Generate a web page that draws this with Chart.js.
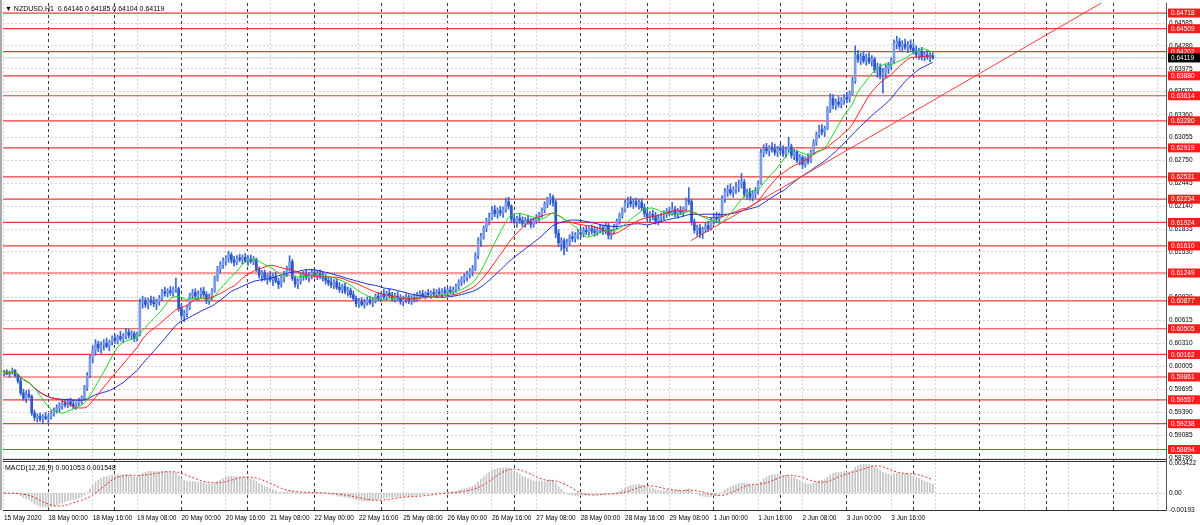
<!DOCTYPE html>
<html><head><meta charset="utf-8">
<script src="https://cdn.jsdelivr.net/npm/chart.js@4.4.0/dist/chart.umd.min.js"></script>
<style>html,body{margin:0;padding:0;background:#fff;}#wrap{position:relative;width:1200px;height:525px;}canvas{display:block;}</style>
</head><body><div id="wrap"><canvas id="c" width="1200" height="525"></canvas></div>
<script>
const symbolTitle = "\u25BC NZDUSD,H1  0.64146 0.64185 0.64104 0.64119";
const macdTitle = "MACD(12,26,9) 0.001053 0.001548";
const timeLabels = ["15 May 2020","18 May 00:00","18 May 16:00","19 May 08:00","20 May 00:00","20 May 16:00","21 May 08:00","22 May 00:00","22 May 16:00","25 May 08:00","26 May 00:00","26 May 16:00","27 May 08:00","28 May 00:00","28 May 16:00","29 May 08:00","1 Jun 00:00","1 Jun 16:00","2 Jun 08:00","3 Jun 00:00","3 Jun 16:00"];
const barsPerLabel = 16, firstDayBar = 16, barsPerDay = 24;
const priceTicks = [0.64585,0.64280,0.63975,0.63670,0.63360,0.63055,0.62750,0.62445,0.62140,0.61835,0.61530,0.61225,0.60920,0.60615,0.60310,0.60005,0.59695,0.59390,0.59085,0.58780];
const levels = [0.64718,0.64509,0.64202,0.63880,0.63614,0.63280,0.62919,0.62531,0.62234,0.61924,0.61610,0.61249,0.60877,0.60505,0.60162,0.59861,0.59557,0.59238,0.58894];
const lastPrice = 0.64119;
const macdTickValues = [0.003422, 0, -0.00193];
const macdTickLabels = ["0.003422","0.00","-0.00193"];
const trendLine = [{x:247.7,y:0.6168},{x:395.7,y:0.6485}];
const opens = [
.5991,.5993,.5990,.5992,.5995,.5988,.5981,.5965,.5958,.5963,.5960,.5938,.5932,.5934,.5930,.5933,
.5931,.5933,.5938,.5942,.5945,.5948,.5951,.5949,.5953,.5950,.5947,.5951,.5955,.5957,.5972,.5988,
.6012,.6022,.6030,.6025,.6029,.6031,.6027,.6033,.6038,.6035,.6040,.6037,.6041,.6046,.6042,.6044,
.6038,.6043,.6085,.6088,.6083,.6089,.6086,.6084,.6087,.6091,.6100,.6098,.6101,.6099,.6103,.6104,
.6078,.6068,.6071,.6079,.6095,.6099,.6094,.6097,.6101,.6096,.6088,.6093,.6101,.6118,.6130,.6136,
.6141,.6144,.6149,.6142,.6139,.6145,.6143,.6146,.6141,.6144,.6140,.6143,.6130,.6122,.6125,.6118,
.6121,.6116,.6120,.6114,.6110,.6118,.6124,.6131,.6140,.6118,.6110,.6114,.6121,.6123,.6119,.6122,
.6125,.6121,.6124,.6120,.6118,.6115,.6112,.6109,.6113,.6106,.6103,.6107,.6100,.6102,.6096,.6091,
.6084,.6087,.6083,.6086,.6089,.6085,.6088,.6094,.6091,.6097,.6093,.6098,.6095,.6090,.6094,.6091,
.6087,.6090,.6093,.6088,.6092,.6090,.6095,.6097,.6094,.6098,.6096,.6099,.6097,.6100,.6098,.6101,
.6099,.6102,.6100,.6103,.6107,.6113,.6116,.6120,.6123,.6127,.6130,.6148,.6168,.6174,.6185,.6194,
.6199,.6209,.6204,.6208,.6205,.6210,.6220,.6214,.6197,.6194,.6198,.6195,.6191,.6196,.6193,.6190,
.6195,.6199,.6203,.6209,.6217,.6223,.6226,.6219,.6178,.6165,.6168,.6158,.6166,.6173,.6171,.6176,
.6179,.6177,.6182,.6180,.6184,.6181,.6179,.6183,.6185,.6180,.6188,.6175,.6180,.6187,.6194,.6202,
.6209,.6218,.6221,.6217,.6220,.6216,.6219,.6212,.6204,.6199,.6203,.6200,.6194,.6198,.6201,.6204,
.6207,.6205,.6210,.6203,.6208,.6206,.6211,.6222,.6220,.6193,.6182,.6185,.6177,.6183,.6188,.6184,
.6195,.6199,.6197,.6202,.6224,.6233,.6236,.6232,.6237,.6240,.6243,.6246,.6230,.6233,.6226,.6231,
.6234,.6245,.6285,.6291,.6288,.6292,.6290,.6286,.6291,.6289,.6284,.6290,.6293,.6282,.6286,.6275,
.6279,.6270,.6277,.6274,.6286,.6299,.6309,.6316,.6313,.6318,.6343,.6358,.6349,.6353,.6350,.6356,
.6359,.6357,.6364,.6381,.6416,.6410,.6414,.6408,.6412,.6407,.6410,.6396,.6400,.6389,.6392,.6398,
.6402,.6408,.6431,.6434,.6427,.6430,.6426,.6429,.6425,.6420,.6416,.6421,.6413,.6416,.6413,.64146];
const highs = [
.5995,.5996,.5994,.5998,.5996,.5990,.5985,.5970,.5968,.5969,.5962,.5942,.5937,.5938,.5936,.5939,
.5936,.5941,.5945,.5949,.5952,.5954,.5956,.5957,.5958,.5955,.5953,.5958,.5961,.5975,.5992,.6015,
.6028,.6036,.6034,.6033,.6036,.6038,.6035,.6041,.6043,.6042,.6047,.6044,.6051,.6050,.6048,.6047,
.6046,.6090,.6094,.6092,.6091,.6094,.6093,.6090,.6095,.6103,.6106,.6104,.6107,.6106,.6118,.6106,
.6083,.6075,.6082,.6098,.6103,.6104,.6101,.6105,.6106,.6100,.6097,.6104,.6121,.6134,.6140,.6145,
.6148,.6154,.6152,.6147,.6148,.6150,.6149,.6151,.6148,.6149,.6147,.6145,.6133,.6128,.6129,.6124,
.6127,.6124,.6126,.6118,.6121,.6127,.6134,.6148,.6143,.6121,.6117,.6125,.6127,.6129,.6126,.6130,
.6131,.6128,.6129,.6126,.6123,.6120,.6118,.6116,.6117,.6112,.6110,.6111,.6106,.6105,.6101,.6094,
.6091,.6092,.6090,.6093,.6094,.6092,.6097,.6099,.6100,.6103,.6101,.6104,.6099,.6098,.6100,.6096,
.6094,.6097,.6096,.6095,.6097,.6099,.6101,.6102,.6100,.6103,.6101,.6104,.6103,.6105,.6104,.6106,
.6105,.6107,.6106,.6110,.6116,.6120,.6124,.6127,.6131,.6135,.6152,.6172,.6178,.6188,.6198,.6205,
.6214,.6215,.6212,.6214,.6213,.6225,.6226,.6216,.6203,.6201,.6204,.6200,.6199,.6202,.6198,.6198,
.6203,.6206,.6212,.6220,.6226,.6231,.6229,.6222,.6183,.6172,.6171,.6170,.6176,.6180,.6179,.6183,
.6185,.6186,.6188,.6187,.6189,.6187,.6186,.6190,.6189,.6192,.6191,.6183,.6190,.6197,.6205,.6212,
.6222,.6226,.6227,.6224,.6225,.6223,.6224,.6217,.6210,.6207,.6209,.6206,.6203,.6205,.6208,.6211,
.6213,.6219,.6214,.6211,.6214,.6213,.6225,.6239,.6223,.6197,.6189,.6190,.6186,.6192,.6194,.6198,
.6204,.6206,.6205,.6228,.6238,.6242,.6244,.6240,.6246,.6249,.6258,.6250,.6237,.6238,.6235,.6239,
.6248,.6290,.6296,.6298,.6295,.6299,.6297,.6294,.6297,.6295,.6293,.6306,.6297,.6290,.6289,.6283,
.6282,.6280,.6284,.6289,.6303,.6313,.6322,.6323,.6321,.6347,.6364,.6363,.6357,.6360,.6359,.6363,
.6366,.6368,.6386,.6428,.6422,.6418,.6420,.6417,.6419,.6415,.6413,.6405,.6404,.6398,.6403,.6406,
.6412,.6436,.6441,.6438,.6435,.6437,.6434,.6436,.6432,.6428,.6425,.6426,.6420,.6422,.6419,.64185];
const lows = [
.5988,.5989,.5986,.5990,.5986,.5978,.5962,.5955,.5952,.5958,.5935,.5928,.5926,.5927,.5924,.5929,
.5924,.5930,.5934,.5938,.5940,.5943,.5946,.5945,.5947,.5944,.5943,.5948,.5950,.5955,.5968,.5985,
.6005,.6015,.6020,.6018,.6022,.6025,.6021,.6029,.6031,.6030,.6034,.6032,.6037,.6038,.6036,.6033,
.6034,.6041,.6078,.6079,.6077,.6082,.6080,.6076,.6082,.6088,.6094,.6093,.6095,.6094,.6099,.6074,
.6063,.6060,.6066,.6076,.6090,.6091,.6088,.6092,.6093,.6084,.6083,.6089,.6099,.6114,.6125,.6131,
.6135,.6139,.6138,.6134,.6136,.6140,.6137,.6139,.6135,.6138,.6136,.6127,.6118,.6114,.6115,.6110,
.6113,.6108,.6112,.6104,.6106,.6113,.6120,.6127,.6115,.6106,.6104,.6110,.6115,.6116,.6113,.6117,
.6119,.6116,.6117,.6114,.6110,.6108,.6105,.6104,.6103,.6099,.6098,.6097,.6094,.6092,.6088,.6080,
.6079,.6081,.6078,.6082,.6083,.6080,.6085,.6088,.6087,.6090,.6089,.6092,.6087,.6086,.6088,.6083,
.6081,.6085,.6084,.6083,.6086,.6087,.6090,.6092,.6090,.6093,.6091,.6094,.6092,.6095,.6093,.6096,
.6094,.6097,.6096,.6099,.6103,.6108,.6111,.6114,.6118,.6121,.6128,.6144,.6160,.6170,.6180,.6189,
.6196,.6200,.6198,.6201,.6199,.6206,.6210,.6192,.6190,.6186,.6191,.6187,.6186,.6190,.6185,.6186,
.6191,.6194,.6199,.6205,.6212,.6216,.6214,.6172,.6160,.6155,.6149,.6154,.6162,.6167,.6166,.6170,
.6172,.6173,.6176,.6175,.6177,.6174,.6175,.6178,.6176,.6177,.6170,.6170,.6177,.6183,.6190,.6198,
.6206,.6212,.6213,.6211,.6213,.6210,.6208,.6200,.6195,.6192,.6196,.6190,.6189,.6193,.6196,.6199,
.6201,.6202,.6200,.6198,.6203,.6201,.6208,.6216,.6189,.6178,.6174,.6172,.6171,.6179,.6180,.6182,
.6190,.6192,.6191,.6199,.6219,.6227,.6229,.6226,.6231,.6233,.6238,.6226,.6223,.6222,.6221,.6225,
.6230,.6243,.6280,.6284,.6281,.6286,.6282,.6280,.6284,.6280,.6279,.6286,.6278,.6276,.6272,.6269,
.6264,.6266,.6270,.6272,.6283,.6295,.6305,.6309,.6307,.6316,.6339,.6344,.6343,.6346,.6345,.6350,
.6352,.6353,.6362,.6378,.6406,.6403,.6405,.6402,.6404,.6401,.6392,.6386,.6384,.6365,.6385,.6391,
.6396,.6405,.6424,.6422,.6420,.6423,.6419,.6422,.6417,.6412,.6410,.6409,.6408,.6410,.6407,.64104];
const closes = [
.5993,.5990,.5992,.5995,.5988,.5981,.5965,.5958,.5963,.5960,.5938,.5932,.5934,.5930,.5933,.5931,
.5933,.5938,.5942,.5945,.5948,.5951,.5949,.5953,.5950,.5947,.5951,.5955,.5957,.5972,.5988,.6012,
.6022,.6030,.6025,.6029,.6031,.6027,.6033,.6038,.6035,.6040,.6037,.6041,.6046,.6042,.6044,.6038,
.6043,.6085,.6088,.6083,.6089,.6086,.6084,.6087,.6091,.6100,.6098,.6101,.6099,.6103,.6104,.6078,
.6068,.6071,.6079,.6095,.6099,.6094,.6097,.6101,.6096,.6088,.6093,.6101,.6118,.6130,.6136,.6141,
.6144,.6149,.6142,.6139,.6145,.6143,.6146,.6141,.6144,.6140,.6143,.6130,.6122,.6125,.6118,.6121,
.6116,.6120,.6114,.6110,.6118,.6124,.6131,.6140,.6118,.6110,.6114,.6121,.6123,.6119,.6122,.6125,
.6121,.6124,.6120,.6118,.6115,.6112,.6109,.6113,.6106,.6103,.6107,.6100,.6102,.6096,.6091,.6084,
.6087,.6083,.6086,.6089,.6085,.6088,.6094,.6091,.6097,.6093,.6098,.6095,.6090,.6094,.6091,.6087,
.6090,.6093,.6088,.6092,.6090,.6095,.6097,.6094,.6098,.6096,.6099,.6097,.6100,.6098,.6101,.6099,
.6102,.6100,.6103,.6107,.6113,.6116,.6120,.6123,.6127,.6130,.6148,.6168,.6174,.6185,.6194,.6199,
.6209,.6204,.6208,.6205,.6210,.6220,.6214,.6197,.6194,.6198,.6195,.6191,.6196,.6193,.6190,.6195,
.6199,.6203,.6209,.6217,.6223,.6226,.6219,.6178,.6165,.6168,.6158,.6166,.6173,.6171,.6176,.6179,
.6177,.6182,.6180,.6184,.6181,.6179,.6183,.6185,.6180,.6188,.6175,.6180,.6187,.6194,.6202,.6209,
.6218,.6221,.6217,.6220,.6216,.6219,.6212,.6204,.6199,.6203,.6200,.6194,.6198,.6201,.6204,.6207,
.6205,.6210,.6203,.6208,.6206,.6211,.6222,.6220,.6193,.6182,.6185,.6177,.6183,.6188,.6184,.6195,
.6199,.6197,.6202,.6224,.6233,.6236,.6232,.6237,.6240,.6243,.6246,.6230,.6233,.6226,.6231,.6234,
.6245,.6285,.6291,.6288,.6292,.6290,.6286,.6291,.6289,.6284,.6290,.6293,.6282,.6286,.6275,.6279,
.6270,.6277,.6274,.6286,.6299,.6309,.6316,.6313,.6318,.6343,.6358,.6349,.6353,.6350,.6356,.6359,
.6357,.6364,.6381,.6416,.6410,.6414,.6408,.6412,.6407,.6410,.6396,.6400,.6389,.6392,.6398,.6402,
.6408,.6431,.6434,.6427,.6430,.6426,.6429,.6425,.6420,.6416,.6421,.6413,.6416,.6413,.6415,.64119];
const maPeriods = {green: 12, red: 21, blue: 34};
const macdParams = {fast: 12, slow: 26, signal: 9};

// ---- derived indicator series (computed from closes) ----
function sma(a, n){ const out=[]; let s=0; for(let i=0;i<a.length;i++){ s+=a[i]; if(i>=n) s-=a[i-n]; out.push(s/Math.min(i+1,n)); } return out; }
function ema(a, n){ const k=2/(n+1); const out=[a[0]]; for(let i=1;i<a.length;i++) out.push(a[i]*k+out[i-1]*(1-k)); return out; }
const maG = sma(closes, maPeriods.green), maR = sma(closes, maPeriods.red), maB = sma(closes, maPeriods.blue);
const eF = ema(closes, macdParams.fast), eS = ema(closes, macdParams.slow);
const macdMain = eF.map((v,i)=>v-eS[i]);
const macdSig = sma(macdMain, macdParams.signal);

const X_MIN = -0.36, X_MAX = 419.1;
const FONT = 'Liberation Sans';
Chart.defaults.font.family = FONT;
Chart.defaults.font.size = 6.5;
Chart.defaults.color = '#000';

const pts = a => a.map((v,i)=>({x:i,y:v}));
const datasets = [];
levels.forEach(L => datasets.push({type:'line', data:[{x:X_MIN,y:L},{x:X_MAX,y:L}], borderColor:'#ec3a3a', borderWidth:1.2, pointRadius:0, yAxisID:'y', order:20}));
datasets.push({type:'line', data:[{x:X_MIN,y:lastPrice},{x:X_MAX,y:lastPrice}], borderColor:'#c5cbd8', borderWidth:1, pointRadius:0, yAxisID:'y', order:19});
datasets.push({type:'bar', data:closes.map((c,i)=>({x:i,y:[lows[i],highs[i]]})), backgroundColor:'#3a66d6', barThickness:1, grouped:false, yAxisID:'y', order:10});
datasets.push({type:'bar', data:closes.map((c,i)=>({x:i,y:[Math.min(opens[i],c),Math.max(opens[i],c)]})), backgroundColor:closes.map((c,i)=>c>=opens[i]?'#7d9ce8':'#2c57cc'), borderWidth:0, barThickness:2, minBarLength:1, grouped:false, yAxisID:'y', order:9});
datasets.push({type:'line', data:pts(maB), borderColor:'#1f2fd0', borderWidth:1, pointRadius:0, yAxisID:'y', order:5});
datasets.push({type:'line', data:pts(maR), borderColor:'#ff2020', borderWidth:1, pointRadius:0, yAxisID:'y', order:4});
datasets.push({type:'line', data:pts(maG), borderColor:'#22d422', borderWidth:1, pointRadius:0, yAxisID:'y', order:3});
datasets.push({type:'line', data:trendLine, borderColor:'#f03c3c', borderWidth:1, pointRadius:0, yAxisID:'y', order:2});
datasets.push({type:'bar', data:pts(macdMain), backgroundColor:'#c4c4c4', barThickness:1, grouped:false, yAxisID:'yM', order:8});
datasets.push({type:'line', data:pts(macdSig), borderColor:'#e03030', borderWidth:1, borderDash:[2,2], pointRadius:0, yAxisID:'yM', order:1});

const labelTickVals = []; for(let v=0; v<=X_MAX; v+=barsPerLabel) labelTickVals.push(v);
const dayTickVals = []; for(let v=firstDayBar; v<=X_MAX; v+=barsPerDay) dayTickVals.push(v);
const xTickVals = Array.from(new Set([...labelTickVals, ...dayTickVals])).sort((a,b)=>a-b);
const isDay = v => dayTickVals.includes(v);
const noPad = s => { s.paddingTop = 0; s.paddingBottom = 0; s.paddingLeft = 0; s.paddingRight = 0; };

const decor = {
  id:'decor',
  beforeDraw(chart){ const c=chart.ctx; c.save(); c.fillStyle='#fff'; c.fillRect(0,0,chart.width,chart.height); c.restore(); },
  afterDraw(chart){
    const c=chart.ctx, ya=chart.scales.y, ym=chart.scales.yM, a=chart.chartArea;
    c.save();
    c.fillStyle='#a8a8a8'; c.fillRect(0,0,2,a.bottom);
    c.fillStyle='#333'; c.fillRect(a.left, ya.bottom, a.right-a.left, 1); c.fillRect(a.left, ya.bottom+2, a.right-a.left, 1);
    c.font = '6.5px "'+FONT+'"'; c.textBaseline='middle'; c.textAlign='left';
    levels.forEach(L=>{ const y=ya.getPixelForValue(L); c.fillStyle='#ff1c1c'; c.fillRect(a.right+2,y-4.5,34,9); c.fillStyle='#fff'; c.fillText(L.toFixed(5), a.right+5, y+0.5); });
    const yp=ya.getPixelForValue(lastPrice); c.fillStyle='#000'; c.fillRect(a.right+2,yp-4.5,34,9); c.fillStyle='#fff'; c.fillText(lastPrice.toFixed(5), a.right+5, yp+0.5);
    c.fillStyle='#000'; c.font='7px "'+FONT+'"';
    c.fillText(symbolTitle, 5, 9);
    c.fillText(macdTitle, 5, ym.top+9);
    c.restore();
  }
};

new Chart(document.getElementById('c'), {
  type:'line',
  data:{datasets},
  plugins:[decor],
  options:{
    responsive:false, animation:false, events:[],
    layout:{autoPadding:false, padding:{left:3, top:3, right:0, bottom:3}},
    plugins:{legend:{display:false}, tooltip:{enabled:false}},
    scales:{
      x:{type:'linear', position:'bottom', min:X_MIN, max:X_MAX, offset:false,
        afterBuildTicks: s => { s.ticks = xTickVals.map(v=>({value:v})); },
        afterFit: s => { s.height = 12; noPad(s); },
        ticks:{autoSkip:false, maxRotation:0, minRotation:0, align:'start', padding:4, color:'#000',
          callback:(v)=>{ const k=v/barsPerLabel; return (Number.isInteger(k) && k<timeLabels.length) ? timeLabels[k] : ''; }},
        grid:{offset:false, drawTicks:false, lineWidth:1,
          color:(ctx)=> (ctx.tick && isDay(ctx.tick.value)) ? '#3a3a3a' : '#d2d2d2'},
        border:{display:true, color:'#333', width:1,
          dash:(ctx)=> (ctx.tick && isDay(ctx.tick.value)) ? [3,3] : [2,2]}
      },
      y:{type:'linear', position:'right', stack:'panes', stackWeight:456, min:0.58767, max:0.64852,
        afterBuildTicks: s => { s.ticks = priceTicks.map(v=>({value:v})); },
        afterFit: s => { s.width = 34; noPad(s); },
        ticks:{padding:3, color:'#000', callback:(v)=>v.toFixed(5)},
        grid:{drawTicks:false, color:'#d4d4d4'},
        border:{display:true, color:'#555', dash:[2,2]}
      },
      yM:{type:'linear', position:'right', stack:'panes', stackWeight:51, min:-0.00193, max:0.003877, offset:false,
        afterBuildTicks: s => { s.ticks = macdTickValues.map(v=>({value:v})); },
        afterFit: s => { s.width = 34; noPad(s); },
        ticks:{padding:3, color:'#000', callback:(v,i)=>macdTickLabels[i]},
        grid:{drawTicks:false, color:(ctx)=> (ctx.tick && ctx.tick.value===0) ? '#c8c8c8' : 'rgba(0,0,0,0)'},
        border:{display:true, color:'#555', dash:[2,2]}
      }
    }
  }
});
</script></body></html>
